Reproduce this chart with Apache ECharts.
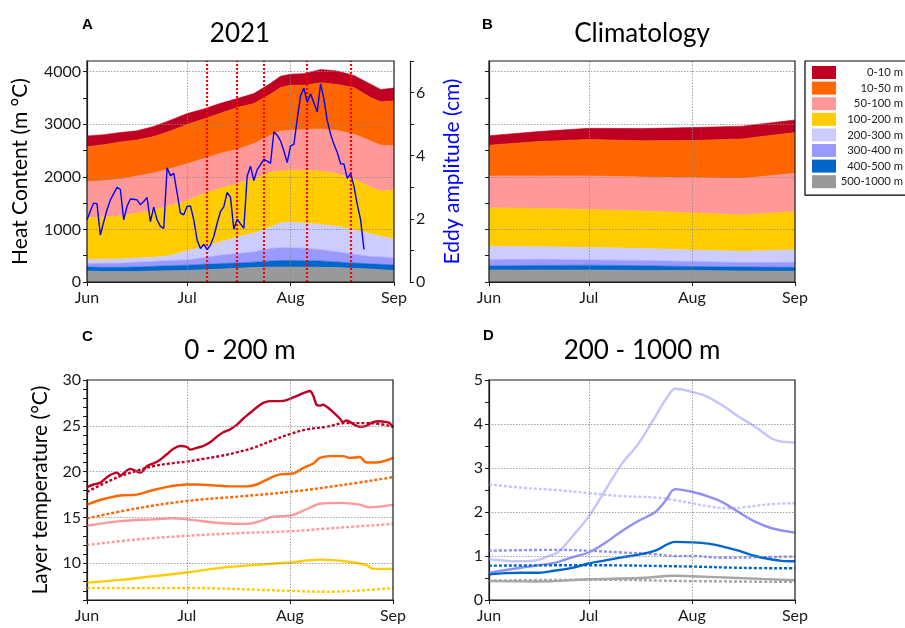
<!DOCTYPE html>
<html>
<head>
<meta charset="utf-8">
<script src="https://cdn.jsdelivr.net/npm/echarts@6/dist/echarts.min.js"></script>
<style>
html, body { margin: 0; padding: 0; background: #fff; }
#chart { width: 905px; height: 628px; }
</style>
</head>
<body>
<div id="chart"></div>
<script>
// layers, top to bottom (same order as the legend)
const layerNames = ['0-10 m', '10-50 m', '50-100 m', '100-200 m', '200-300 m', '300-400 m', '400-500 m', '500-1000 m'];
const layerColors = ['#c00023', '#ff6600', '#ff9999', '#ffcc00', '#ccccff', '#9999ff', '#0066cc', '#999999'];

// x = day since 1 June 2021
const monthTicks = [0, 30, 61, 92];
const monthLabels = ['Jun', 'Jul', 'Aug', 'Sep'];

// A: heat content 2021 (m °C), contribution of each layer
const hcDays = [0, 5, 10, 15, 20, 25, 30, 35, 40, 45, 50, 55, 58, 61, 65, 70, 75, 80, 85, 88, 92];
const hc21_0_10 = [205, 190, 180, 175, 190, 205, 205, 190, 190, 170, 190, 205, 215, 210, 220, 255, 255, 230, 255, 235, 240];
const hc21_10_50 = [665, 685, 705, 685, 695, 715, 750, 755, 760, 795, 760, 780, 825, 855, 845, 875, 875, 885, 825, 825, 855];
const hc21_50_100 = [680, 685, 695, 710, 700, 700, 700, 670, 665, 650, 670, 705, 760, 760, 775, 800, 825, 850, 880, 870, 840];
const hc21_100_200 = [800, 810, 825, 850, 900, 950, 950, 1000, 1015, 1015, 1030, 1040, 990, 985, 1000, 1015, 1000, 965, 885, 860, 930];
const hc21_200_300 = [75, 75, 80, 80, 80, 95, 175, 215, 255, 315, 360, 410, 470, 490, 480, 480, 485, 470, 430, 395, 360];
const hc21_300_400 = [65, 75, 75, 90, 90, 100, 100, 125, 160, 180, 195, 235, 240, 240, 235, 215, 190, 165, 140, 140, 135];
const hc21_400_500 = [75, 80, 80, 85, 90, 95, 100, 100, 105, 100, 100, 115, 125, 125, 120, 120, 105, 100, 100, 100, 105];
const hc21_500_1000 = [210, 200, 200, 200, 210, 215, 220, 235, 245, 260, 275, 285, 285, 285, 285, 280, 275, 260, 245, 235, 220];

// A: eddy amplitude (cm), daily from 1 June
const eddyAmp = [1.97, 2.25, 2.5, 2.48, 1.49, 1.9, 2.29, 2.6, 2.8, 3.0, 2.93, 1.97, 2.4, 2.63, 2.62, 2.6, 2.45, 2.55, 2.68, 1.91,
  2.37, 1.97, 1.76, 1.7, 3.62, 3.37, 3.44, 2.82, 2.18, 2.13, 2.39, 2.41, 1.97, 1.33, 1.06, 1.19, 1.03, 1.17, 1.44, 1.86,
  2.23, 2.39, 2.84, 2.69, 1.67, 1.99, 1.84, 1.7, 3.35, 3.67, 3.21, 3.56, 3.72, 3.88, 3.83, 3.76, 4.76, 4.65, 4.47, 4.15,
  3.78, 4.31, 4.36, 5.16, 5.9, 6.14, 5.69, 5.96, 5.67, 5.39, 6.28, 5.8, 5.11, 4.68, 4.36, 4.1, 3.74, 3.74, 3.28, 3.44,
  3.03, 2.45, 1.97, 1.03];
// days of the red dotted lines
const eddyEvents = [36, 45, 53, 66, 79];

// B: climatology heat content (m °C)
const climDays = [0, 15, 30, 46, 61, 76, 92];
const hcCl_0_10 = [180, 190, 210, 230, 245, 240, 240];
const hcCl_10_50 = [585, 655, 695, 690, 710, 755, 775];
const hcCl_50_100 = [605, 615, 635, 645, 665, 690, 725];
const hcCl_100_200 = [730, 730, 725, 710, 705, 690, 725];
const hcCl_200_300 = [255, 240, 235, 230, 220, 215, 240];
const hcCl_300_400 = [120, 115, 100, 100, 95, 85, 95];
const hcCl_400_500 = [75, 85, 90, 90, 75, 75, 75];
const hcCl_500_1000 = [230, 230, 230, 220, 220, 210, 205];

// C: layer temperature 0-200 m (°C), [day, value]
const tObs0_10 = [[0, 18.3], [2, 18.6], [4, 18.8], [6, 19.4], [9, 19.9], [10, 19.6], [13, 20.3], [16, 19.9], [18, 20.6], [20, 20.9],
  [22, 21.3], [24, 21.9], [26, 22.5], [28, 22.8], [30, 22.7], [31, 22.4], [33, 22.6], [35, 22.8], [37, 23.2], [39, 23.8],
  [41, 24.3], [43, 24.6], [45, 25.1], [47, 25.8], [49, 26.4], [51, 27.0], [53, 27.5], [55, 27.7], [58, 27.7], [60, 27.8],
  [62, 28.1], [64, 28.4], [66, 28.7], [67, 28.8], [68, 28.3], [69, 27.3], [70, 27.2], [71, 27.3], [72, 27.1], [74, 26.5],
  [76, 25.8], [77, 25.4], [78, 25.6], [80, 25.2], [82, 24.9], [84, 25.0], [86, 25.4], [88, 25.5], [90, 25.4], [91, 25.3], [92, 24.8]];
const tClim0_10 = [[0, 17.8], [5, 18.7], [10, 19.5], [15, 20.1], [20, 20.6], [25, 20.9], [30, 21.1], [35, 21.4], [40, 21.7], [45, 22.1],
  [50, 22.6], [55, 23.3], [61, 24.1], [66, 24.6], [72, 24.9], [78, 25.3], [84, 25.3], [88, 25.2], [92, 24.9]];
const tObs10_50 = [[0, 16.4], [3, 16.8], [6, 17.1], [10, 17.4], [15, 17.5], [20, 18.0], [25, 18.4], [30, 18.6], [33, 18.6], [38, 18.5],
  [43, 18.4], [48, 18.4], [51, 18.6], [55, 19.3], [58, 19.7], [62, 19.8], [65, 20.4], [68, 20.9], [70, 21.5], [73, 21.7],
  [77, 21.7], [79, 21.5], [82, 21.6], [84, 21.0], [87, 21.0], [92, 21.5]];
const tClim10_50 = [[0, 14.9], [15, 16.0], [30, 16.8], [46, 17.3], [61, 17.8], [76, 18.5], [92, 19.4]];
const tObs50_100 = [[0, 14.1], [10, 14.6], [20, 14.8], [26, 14.9], [30, 14.8], [40, 14.4], [48, 14.3], [52, 14.6], [56, 15.1], [61, 15.2],
  [66, 15.9], [70, 16.5], [76, 16.6], [82, 16.4], [85, 16.1], [92, 16.4]];
const tClim50_100 = [[0, 12.0], [15, 12.6], [30, 13.0], [46, 13.3], [61, 13.5], [76, 13.9], [92, 14.3]];
const tObs100_200 = [[0, 7.9], [10, 8.2], [20, 8.6], [30, 9.0], [40, 9.5], [50, 9.8], [61, 10.1], [70, 10.4], [78, 10.2], [84, 9.8], [86, 9.4], [92, 9.4]];
const tClim100_200 = [[0, 7.3], [30, 7.3], [61, 7.0], [72, 6.9], [92, 7.3]];

// D: layer temperature 200-1000 m (°C), [day, value]
const tObs200_300 = [[0, 0.93], [4, 0.9], [8, 0.88], [14, 0.9], [18, 1.0], [21, 1.1], [25, 1.44], [30, 1.9], [35, 2.5], [40, 3.1],
  [45, 3.56], [50, 4.17], [54, 4.66], [56, 4.8], [61, 4.73], [65, 4.64], [70, 4.43], [75, 4.17], [80, 3.94], [85, 3.67], [88, 3.6], [92, 3.58]];
const tClim200_300 = [[0, 2.63], [10, 2.55], [20, 2.5], [30, 2.43], [40, 2.36], [50, 2.33], [56, 2.27], [61, 2.2], [66, 2.13], [72, 2.08], [78, 2.12], [85, 2.18], [92, 2.2]];
const tObs300_400 = [[0, 0.62], [10, 0.74], [20, 0.85], [25, 0.97], [30, 1.08], [35, 1.3], [40, 1.57], [45, 1.8], [50, 2.0], [53, 2.25],
  [56, 2.52], [61, 2.46], [66, 2.35], [70, 2.23], [75, 2.0], [80, 1.78], [85, 1.63], [92, 1.53]];
const tClim300_400 = [[0, 1.12], [20, 1.14], [30, 1.12], [40, 1.08], [50, 1.04], [56, 1.0], [61, 1.0], [70, 0.96], [80, 0.97], [92, 0.99]];
const tObs400_500 = [[0, 0.58], [5, 0.61], [10, 0.62], [15, 0.62], [20, 0.67], [25, 0.73], [30, 0.83], [35, 0.9], [40, 0.97], [45, 1.03],
  [50, 1.12], [56, 1.32], [61, 1.31], [66, 1.28], [70, 1.22], [75, 1.12], [80, 1.0], [85, 0.92], [88, 0.89], [92, 0.88]];
const tClim400_500 = [[0, 0.78], [30, 0.79], [61, 0.76], [76, 0.73], [92, 0.72]];
const tObs500_1000 = [[0, 0.43], [15, 0.42], [30, 0.47], [45, 0.5], [56, 0.55], [61, 0.54], [75, 0.5], [92, 0.45]];
const tClim500_1000 = [[0, 0.44], [30, 0.46], [61, 0.43], [92, 0.41]];

// axis ticks
const hcTicks = [0, 500, 1000, 1500, 2000, 2500, 3000, 3500, 4000];
const hcLabels = [0, 1000, 2000, 3000, 4000];
const eddyTicks = [0, 1, 2, 3, 4, 5, 6, 7];
const eddyLabels = [0, 2, 4, 6];
const upperTicks = [6, 7, 8, 9, 10, 11, 12, 13, 14, 15, 16, 17, 18, 19, 20, 21, 22, 23, 24, 25, 26, 27, 28, 29, 30];
const upperLabels = [10, 15, 20, 25, 30];
const deepTicks = [0, 0.5, 1, 1.5, 2, 2.5, 3, 3.5, 4, 4.5, 5];
const deepLabels = [0, 1, 2, 3, 4, 5];

const hc2021 = [hc21_0_10, hc21_10_50, hc21_50_100, hc21_100_200, hc21_200_300, hc21_300_400, hc21_400_500, hc21_500_1000];
const hcClim = [hcCl_0_10, hcCl_10_50, hcCl_50_100, hcCl_100_200, hcCl_200_300, hcCl_300_400, hcCl_400_500, hcCl_500_1000];
const upperObs = [tObs0_10, tObs10_50, tObs50_100, tObs100_200];
const upperClim = [tClim0_10, tClim10_50, tClim50_100, tClim100_200];
const deepObs = [tObs200_300, tObs300_400, tObs400_500, tObs500_1000];
const deepClim = [tClim200_300, tClim300_400, tClim400_500, tClim500_1000];

const font = 'Lato';
const ink = '#1a1a1a';
const gridStyle = { color: '#8a8a8a', type: [1.5, 1.5], width: 0.8 };

const chart = echarts.init(document.getElementById('chart'));

function xAxis(gi) {
    return {
        type: 'value', gridIndex: gi, min: 0, max: 92,
        axisLine: { show: true, lineStyle: { color: ink, width: 1.2 } },
        axisTick: { show: true, customValues: monthTicks, length: 4, lineStyle: { color: ink } },
        axisLabel: {
            customValues: monthTicks, margin: 8, fontSize: 16, color: ink, fontFamily: font,
            formatter: v => monthLabels[monthTicks.indexOf(v)]
        },
        splitLine: { show: false }
    };
}

function yAxis(gi, min, max, ticks, labels, extra) {
    return Object.assign({
        type: 'value', gridIndex: gi, min: min, max: max,
        axisLine: { show: true, lineStyle: { color: ink, width: 1.2 } },
        axisTick: { show: true, customValues: ticks, length: 4, lineStyle: { color: ink } },
        axisLabel: {
            show: labels.length > 0, customValues: labels, margin: 6, fontSize: 16, color: ink, fontFamily: font,
            formatter: v => String(v)
        },
        splitLine: { show: false }
    }, extra || {});
}

// dotted gridlines drawn on top of the areas
function gridLines(gi, yi, ys, more) {
    const data = [{ xAxis: 30 }, { xAxis: 61 }].concat(ys.map(v => ({ yAxis: v })));
    return {
        type: 'line', xAxisIndex: gi, yAxisIndex: yi, data: [], z: 4, silent: true,
        markLine: {
            silent: true, symbol: 'none', label: { show: false }, lineStyle: gridStyle,
            animation: false, data: data.concat(more || [])
        }
    };
}

// stacked layers; the value column comes first so the stack runs on y
function stacked(values, days, gi, stack) {
    return layerNames.map((name, i) => ({
        name: name, type: 'line', stack: stack, xAxisIndex: gi, yAxisIndex: gi === 0 ? 0 : 2,
        symbol: 'none',
        encode: { x: 1, y: 0 },
        lineStyle: { width: 0.6, color: layerColors[i] },
        itemStyle: { color: layerColors[i] },
        areaStyle: { color: layerColors[i], opacity: 1 },
        data: days.map((d, k) => [values[i][k], d])
    })).reverse();
}

function tempLines(obs, clim, gi, yi, colors, tag) {
    const out = [];
    obs.forEach((pts, i) => {
        out.push({
            name: tag + ' obs ' + i, type: 'line', xAxisIndex: gi, yAxisIndex: yi, symbol: 'none', smooth: 0.35,
            lineStyle: { color: colors[i], width: 2.4 }, itemStyle: { color: colors[i] }, z: 3, data: pts
        });
        out.push({
            name: tag + ' clim ' + i, type: 'line', xAxisIndex: gi, yAxisIndex: yi, symbol: 'none', smooth: 0.4,
            lineStyle: { color: colors[i], width: 2.4, type: [3, 2] }, itemStyle: { color: colors[i] }, z: 3, data: clim[i]
        });
    });
    return out;
}

const eventLines = eddyEvents.map(d => ({ xAxis: d, lineStyle: { color: '#ff0000', type: [2, 2], width: 2.2 } }));

const titleFont = { fontFamily: font, fontSize: 26, fontWeight: 'normal', color: '#000' };
const letterFont = { fontFamily: 'Liberation Sans', fontSize: 15, fontWeight: 'bold', color: '#000' };

const option = {
    animation: false,
    textStyle: { fontFamily: font },
    title: [
        { text: 'A', left: 82, top: 17, padding: 0, textStyle: letterFont },
        { text: 'B', left: 482, top: 17, padding: 0, textStyle: letterFont },
        { text: 'C', left: 82, top: 329, padding: 0, textStyle: letterFont },
        { text: 'D', left: 483, top: 328, padding: 0, textStyle: letterFont },
        { text: '2021', left: 240, top: 21, padding: 0, textAlign: 'center', textStyle: titleFont },
        { text: 'Climatology', left: 642, top: 21, padding: 0, textAlign: 'center', textStyle: titleFont },
        { text: '0 - 200 m', left: 240, top: 338, padding: 0, textAlign: 'center', textStyle: titleFont },
        { text: '200 - 1000 m', left: 642, top: 338, padding: 0, textAlign: 'center', textStyle: titleFont }
    ],
    legend: {
        data: layerNames, orient: 'vertical', left: 805, top: 61,
        icon: 'rect', itemWidth: 24, itemHeight: 13, itemGap: 2.6,
        padding: [5, 8, 7, 7], borderColor: '#000', borderWidth: 1.2,
        selectedMode: false,
        formatter: n => '{t|' + n + '}',
        textStyle: { rich: { t: { width: 62, align: 'right', fontSize: 11.3, lineHeight: 13, fontFamily: font, color: '#222' } } }
    },
    grid: [
        { left: 87, top: 61, width: 307, height: 221, show: true, borderColor: ink, borderWidth: 1.2, z: 10 },
        { left: 489, top: 61, width: 306, height: 221, show: true, borderColor: ink, borderWidth: 1.2, z: 10 },
        { left: 87, top: 380, width: 306, height: 220, show: true, borderColor: ink, borderWidth: 1.2, z: 10 },
        { left: 489, top: 380, width: 306, height: 220, show: true, borderColor: ink, borderWidth: 1.2, z: 10 }
    ],
    xAxis: [xAxis(0), xAxis(1), xAxis(2), xAxis(3)],
    yAxis: [
        yAxis(0, 0, 4200, hcTicks, hcLabels, {
            name: 'Heat Content (m \u00b0C)', nameLocation: 'middle', nameRotate: 90, nameGap: 56,
            nameTextStyle: { fontSize: 21, color: '#000', fontFamily: font }
        }),
        yAxis(0, 0, 7, eddyTicks, eddyLabels, {
            position: 'right', offset: 16,
            name: 'Eddy amplitude (cm)', nameLocation: 'middle', nameRotate: 90, nameGap: 32,
            nameTextStyle: { fontSize: 21, color: '#0000ff', fontFamily: font }
        }),
        yAxis(1, 0, 4200, hcTicks, []),
        yAxis(2, 6, 30, upperTicks, upperLabels, {
            name: 'Layer temperature (\u00b0C)', nameLocation: 'middle', nameRotate: 90, nameGap: 36,
            nameTextStyle: { fontSize: 21, color: '#000', fontFamily: font }
        }),
        yAxis(3, 0, 5, deepTicks, deepLabels)
    ],
    series: [].concat(
        stacked(hc2021, hcDays, 0, 'hc2021'),
        stacked(hcClim, climDays, 1, 'hcClim'),
        [gridLines(0, 0, [1000, 2000, 3000, 4000], eventLines)],
        [{
            name: 'Eddy amplitude', type: 'line', xAxisIndex: 0, yAxisIndex: 1, symbol: 'none', z: 5,
            lineStyle: { color: '#0000ff', width: 1.4 }, itemStyle: { color: '#0000ff' },
            data: eddyAmp.map((v, i) => [i, v])
        }],
        [gridLines(1, 2, [1000, 2000, 3000, 4000])],
        [gridLines(2, 3, [10, 15, 20, 25])],
        [gridLines(3, 4, [1, 2, 3, 4])],
        tempLines(upperObs, upperClim, 2, 3, layerColors.slice(0, 4), 'upper'),
        tempLines(deepObs, deepClim, 3, 4, ['#c4c4ff', '#8f8ff5', '#0066cc', '#a6a6a6'], 'deep')
    )
};

chart.setOption(option);
</script>
</body>
</html>
